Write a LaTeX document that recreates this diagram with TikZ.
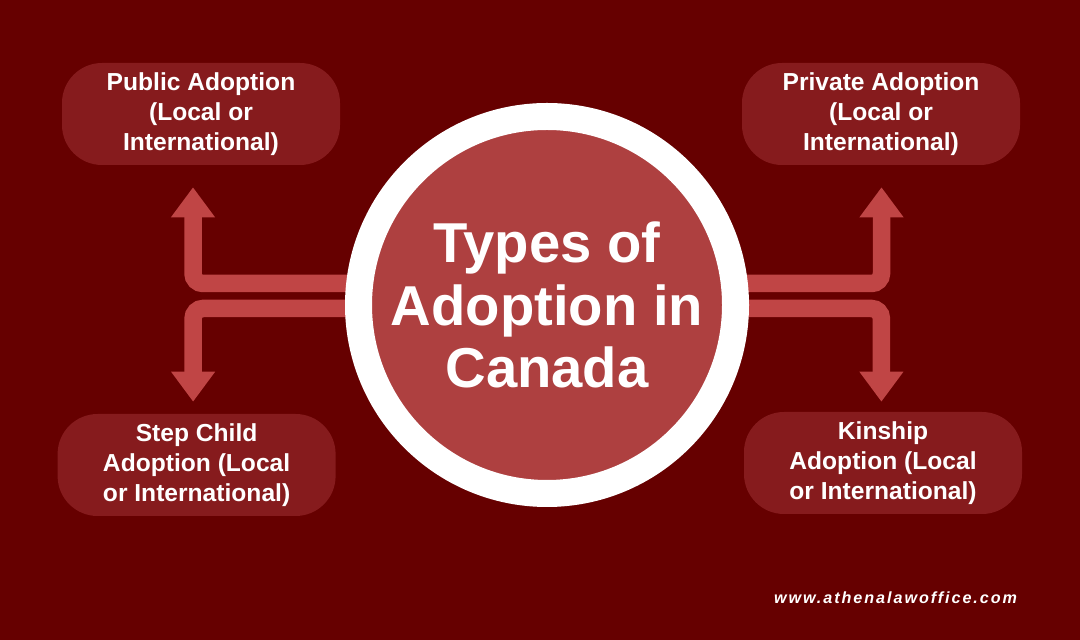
\documentclass[tikz,border=0pt]{standalone}
\usepackage{fontspec}
\setmainfont{Liberation Sans}
\usepackage{tikz}
\usetikzlibrary{positioning,arrows.meta,calc}
\definecolor{bgred}{HTML}{660000}
\definecolor{boxred}{HTML}{861B1D}
\definecolor{flowred}{HTML}{C04545}
\definecolor{hubred}{HTML}{AE4040}
\pgfdeclarelayer{bg}
\pgfsetlayers{bg,main}

\begin{document}
\begin{tikzpicture}[on grid,
    typebox/.style={fill=boxred, rounded corners=1cm, minimum width=6.95cm, minimum height=2.55cm,
                    text=white, align=center, font=\fontsize{17.5}{21.3}\selectfont\bfseries},
    flow/.style={draw=flowred, line width=0.4375cm, rounded corners=0.25cm,
                 -{Triangle[width=1.05cm,length=0.75cm]}}]
           \useasboundingbox (0,0) rectangle (27,16);
           \node[circle, fill=hubred, draw=white, line width=0.675cm, minimum size=9.425cm, inner sep=0pt,
                 text=white, align=center, font=\fontsize{40}{44.5}\selectfont\bfseries]
                 (hub) at (13.675,8.375) {Types of\\Adoption in\\Canada};
           \node[typebox] (pub)  [above left=4.775cm and 8.65cm of hub]  {Public Adoption\\(Local or\\International)};
           \node[typebox] (priv) [above right=4.775cm and 8.35cm of hub] {Private Adoption\\(Local or\\International)};
           \node[typebox] (step) [below left=4cm and 8.76cm of hub]      {Step Child\\Adoption (Local\\or International)};
           \node[typebox] (kin)  [below right=3.95cm and 8.4cm of hub]   {Kinship\\Adoption (Local\\or International)};
           \node[anchor=base east, text=white, font=\fontsize{11.5}{14}\selectfont\bfseries\itshape\addfontfeature{LetterSpace=12}]
                 (url) at (25.55,0.9) {www.athenalawoffice.com};
           \begin{pgfonlayer}{bg}
            \fill[bgred] (0,0) rectangle (27,16);
            \draw[flow, shorten >=0.55cm] ([yshift=0.5375cm]hub.center) -| ([xshift=-0.2cm]pub.south);
            \draw[flow, shorten >=0.3cm]  ([yshift=-0.0875cm]hub.center) -| ([xshift=-0.0875cm]step.north);
            \draw[flow, shorten >=0.55cm] ([yshift=0.5375cm]hub.center) -| ([xshift=0.0125cm]priv.south);
            \draw[flow, shorten >=0.25cm] ([yshift=-0.0875cm]hub.center) -| ([xshift=-0.04cm]kin.north);
           \end{pgfonlayer}
        \end{tikzpicture}
\end{document}
